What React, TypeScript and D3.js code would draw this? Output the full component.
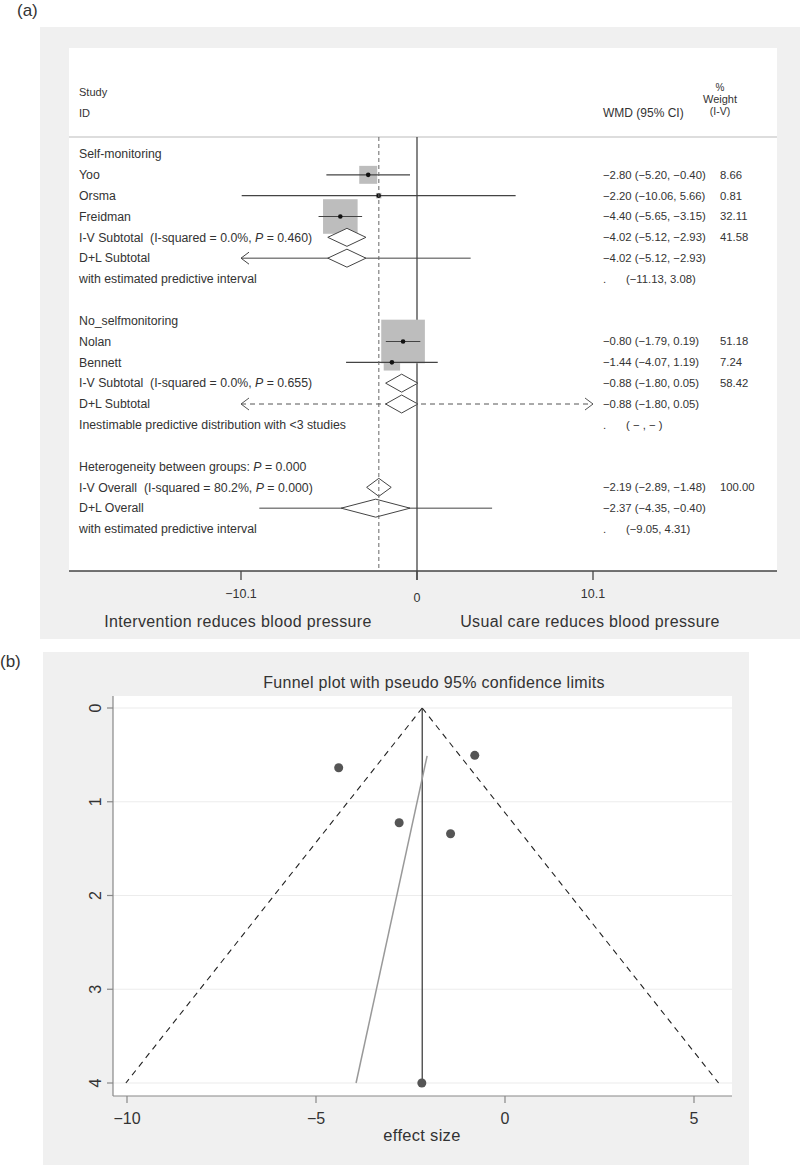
import React from "react";
import * as d3 from "d3";

// ---------- Forest plot data ----------
const rowLabels = [
  "Self-monitoring",
  "Yoo",
  "Orsma",
  "Freidman",
  "I-V Subtotal  (I-squared = 0.0%, P = 0.460)",
  "D+L Subtotal",
  "with estimated predictive interval",
  "",
  "No_selfmonitoring",
  "Nolan",
  "Bennett",
  "I-V Subtotal  (I-squared = 0.0%, P = 0.655)",
  "D+L Subtotal",
  "Inestimable predictive distribution with <3 studies",
  "",
  "Heterogeneity between groups: P = 0.000",
  "I-V Overall  (I-squared = 80.2%, P = 0.000)",
  "D+L Overall",
  "with estimated predictive interval",
];
const effectText = [
  "", "−2.80 (−5.20, −0.40)", "−2.20 (−10.06, 5.66)", "−4.40 (−5.65, −3.15)",
  "−4.02 (−5.12, −2.93)", "−4.02 (−5.12, −2.93)", "", "", "",
  "−0.80 (−1.79, 0.19)", "−1.44 (−4.07, 1.19)", "−0.88 (−1.80, 0.05)",
  "−0.88 (−1.80, 0.05)", "", "", "", "−2.19 (−2.89, −1.48)", "−2.37 (−4.35, −0.40)", "",
];
const weightText = [
  "", "8.66", "0.81", "32.11", "41.58", "", "", "", "",
  "51.18", "7.24", "58.42", "", "", "", "", "100.00", "", "",
];
const predText: { row: number; text: string }[] = [
  { row: 6, text: "(−11.13, 3.08)" },
  { row: 13, text: "( − , − )" },
  { row: 18, text: "(−9.05, 4.31)" },
];

const studyRows = [1, 2, 3, 9, 10];
const studyEst = [-2.8, -2.2, -4.4, -0.8, -1.44];
const studyLo = [-5.2, -10.06, -5.65, -1.79, -4.07];
const studyHi = [-0.4, 5.66, -3.15, 0.19, 1.19];
const studyWeight = [8.66, 0.81, 32.11, 51.18, 7.24];

const pooledRows = [4, 5, 11, 12, 16, 17];
const pooledEst = [-4.02, -4.02, -0.88, -0.88, -2.19, -2.37];
const pooledLo = [-5.12, -5.12, -1.8, -1.8, -2.89, -4.35];
const pooledHi = [-2.93, -2.93, 0.05, 0.05, -1.48, -0.4];

// predictive intervals (null = inestimable)
const predRows = [5, 12, 17];
const predLo: (number | null)[] = [-11.13, null, -9.05];
const predHi: (number | null)[] = [3.08, null, 4.31];

const overallEffect = -2.19;
const forestTicks = [-10.1, 0, 10.1];
const forestTickLabels = ["−10.1", "0", "10.1"];

// ---------- Funnel plot data ----------
const funnelCenter = -2.19;
const funnelZ = 1.96;
const funnelXTicks = [-10, -5, 0, 5];
const funnelYTicks = [0, 1, 2, 3, 4];
const eggerX = [-2.06, -3.94];
const eggerY = [0.51, 4.0];

const FONT = "'Liberation Sans', Arial, Helvetica, sans-serif";
const TXT = "#333";

function labelWithItalicP(s: string) {
  const parts = s.split(/(\bP\b)/);
  return parts.map((p, i) =>
    p === "P" ? (
      <tspan key={i} fontStyle="italic">P</tspan>
    ) : (
      <tspan key={i}>{p}</tspan>
    )
  );
}

export default function App() {
  const fx = d3.scaleLinear().domain([-10.1, 10.1]).range([241, 593]);
  const ry = d3.scaleLinear().domain([0, 18]).range([154, 529]);
  const xmin = -10.1;
  const xmax = 10.1;
  const lineCol = "#444";

  const arrow = (x: number, y: number, dir: number, key: string, dash?: boolean) => (
    <path
      key={key}
      d={`M${x + dir * 8},${y - 6}L${x},${y}L${x + dir * 8},${y + 6}`}
      fill="none"
      stroke={dash ? "#555" : lineCol}
      strokeWidth={1}
    />
  );

  // funnel scales
  const ux = d3.scaleLinear().domain([-10, 5]).range([127, 694]);
  const uy = d3.scaleLinear().domain([0, 4]).range([708, 1083]);
  const funnelSE = studyLo.map((l, i) => (studyHi[i] - l) / (2 * funnelZ));

  return (
    <svg
      width={800}
      height={1166}
      style={{ position: "absolute", left: 0, top: 0, background: "#fff" }}
      fontFamily={FONT}
    >
      {/* ================= Panel (a) ================= */}
      <text x={17} y={16} fontSize={17} fill={TXT}>(a)</text>
      <rect x={40} y={27} width={760} height={612} fill="#f0f0f0" />
      <rect x={69} y={48} width={708} height={523} fill="#fff" />

      {/* header */}
      <text x={79} y={96} fontSize={11} fill={TXT}>Study</text>
      <text x={79} y={117} fontSize={11} fill={TXT}>ID</text>
      <text x={603} y={117} fontSize={12} fill={TXT}>WMD (95% CI)</text>
      <text x={720} y={91} fontSize={10} fill={TXT} textAnchor="middle">%</text>
      <text x={720} y={103} fontSize={11} fill={TXT} textAnchor="middle">Weight</text>
      <text x={720} y={115} fontSize={10.5} fill={TXT} textAnchor="middle">(I-V)</text>
      <line x1={69} x2={777} y1={137} y2={137} stroke="#bbb" strokeWidth={1} />

      {/* zero line */}
      <line x1={fx(0)} x2={fx(0)} y1={137} y2={580} stroke={lineCol} strokeWidth={1.3} />

      {/* boxes */}
      {studyRows.map((r, i) => {
        const s = Math.sqrt(studyWeight[i]) * 6.1;
        return (
          <rect
            key={"b" + i}
            x={fx(studyEst[i]) - s / 2}
            y={ry(r) - s / 2}
            width={s}
            height={s}
            fill="#bdbdbd"
          />
        );
      })}
      {/* CI lines */}
      {studyRows.map((r, i) => {
        const lo = Math.max(studyLo[i], xmin);
        const hi = Math.min(studyHi[i], xmax);
        return (
          <g key={"ci" + i}>
            <line x1={fx(lo)} x2={fx(hi)} y1={ry(r)} y2={ry(r)} stroke={lineCol} strokeWidth={1.2} />
            <circle cx={fx(studyEst[i])} cy={ry(r)} r={2.3} fill="#111" />
          </g>
        );
      })}

      {/* predictive intervals */}
      {predRows.map((r, i) => {
        const y = ry(r);
        const lo = predLo[i];
        const hi = predHi[i];
        if (lo === null || hi === null) {
          return (
            <g key={"p" + i}>
              <line x1={fx(xmin)} x2={fx(xmax)} y1={y} y2={y} stroke="#555" strokeWidth={1} strokeDasharray="5,4" />
              {arrow(fx(xmin), y, 1, "pa" + i, true)}
              {arrow(fx(xmax), y, -1, "pb" + i, true)}
            </g>
          );
        }
        const l = Math.max(lo, xmin);
        const h = Math.min(hi, xmax);
        return (
          <g key={"p" + i}>
            <line x1={fx(l)} x2={fx(h)} y1={y} y2={y} stroke={lineCol} strokeWidth={1} />
            {lo < xmin ? arrow(fx(xmin), y, 1, "pa" + i) : null}
            {hi > xmax ? arrow(fx(xmax), y, -1, "pb" + i) : null}
          </g>
        );
      })}

      {/* diamonds */}
      {pooledRows.map((r, i) => {
        const y = ry(r);
        const h = 9;
        return (
          <path
            key={"d" + i}
            d={`M${fx(pooledLo[i])},${y}L${fx(pooledEst[i])},${y - h}L${fx(pooledHi[i])},${y}L${fx(pooledEst[i])},${y + h}Z`}
            fill="#fff"
            stroke={lineCol}
            strokeWidth={1}
          />
        );
      })}

      {/* overall dashed line */}
      <line
        x1={fx(overallEffect)}
        x2={fx(overallEffect)}
        y1={137}
        y2={571}
        stroke="#666"
        strokeWidth={1}
        strokeDasharray="4,3"
      />

      {/* axis */}
      <line x1={69} x2={777} y1={571} y2={571} stroke={lineCol} strokeWidth={1.3} />
      {forestTicks.map((t, i) => (
        <g key={"ft" + i}>
          <line x1={fx(t)} x2={fx(t)} y1={571} y2={580} stroke={lineCol} strokeWidth={1.3} />
          <text x={fx(t)} y={i === 1 ? 602 : 598} fontSize={12.5} fill={TXT} textAnchor="middle">
            {forestTickLabels[i]}
          </text>
        </g>
      ))}
      <text x={238} y={627} fontSize={16} letterSpacing={0.35} fill={TXT} textAnchor="middle">
        Intervention reduces blood pressure
      </text>
      <text x={590} y={627} fontSize={16} letterSpacing={0.35} fill={TXT} textAnchor="middle">
        Usual care reduces blood pressure
      </text>

      {/* row labels */}
      {rowLabels.map((s, i) =>
        s ? (
          <text key={"l" + i} x={79} y={ry(i)} dy="0.35em" fontSize={12.3} fill={TXT} style={{ whiteSpace: "pre" }}>
            {labelWithItalicP(s)}
          </text>
        ) : null
      )}
      {effectText.map((s, i) =>
        s ? (
          <text key={"e" + i} x={603} y={ry(i)} dy="0.35em" fontSize={11.3} fill={TXT}>
            {s}
          </text>
        ) : null
      )}
      {weightText.map((s, i) =>
        s ? (
          <text key={"w" + i} x={720} y={ry(i)} dy="0.35em" fontSize={11.3} fill={TXT}>
            {s}
          </text>
        ) : null
      )}
      {predText.map((p, i) => (
        <g key={"pt" + i}>
          <text x={603} y={ry(p.row)} dy="0.35em" fontSize={11.3} fill={TXT}>.</text>
          <text x={626} y={ry(p.row)} dy="0.35em" fontSize={11.3} fill={TXT} style={{ whiteSpace: "pre" }}>
            {p.text}
          </text>
        </g>
      ))}

      {/* ================= Panel (b) ================= */}
      <text x={0} y={667} fontSize={17} fill={TXT}>(b)</text>
      <rect x={43} y={652} width={706} height={513} fill="#f0f0f0" />
      <text x={434} y={688} fontSize={16} letterSpacing={0.3} fill={TXT} textAnchor="middle">
        Funnel plot with pseudo 95% confidence limits
      </text>
      <rect x={113} y={696} width={619} height={400} fill="#fff" />

      {/* gridlines */}
      {funnelYTicks.map((t) => (
        <line key={"g" + t} x1={113} x2={732} y1={uy(t)} y2={uy(t)} stroke="#ececec" strokeWidth={1.2} />
      ))}

      {/* axes */}
      <line x1={113} x2={113} y1={696} y2={1096} stroke="#888" strokeWidth={1.2} />
      <line x1={113} x2={732} y1={1096} y2={1096} stroke="#888" strokeWidth={1.2} />
      {funnelYTicks.map((t) => (
        <g key={"yt" + t}>
          <line x1={107} x2={113} y1={uy(t)} y2={uy(t)} stroke="#888" strokeWidth={1.2} />
          <text
            transform={`translate(95,${uy(t)}) rotate(-90)`}
            fontSize={16}
            fill={TXT}
            textAnchor="middle"
            dy="0.35em"
          >
            {String(t)}
          </text>
        </g>
      ))}
      {funnelXTicks.map((t) => (
        <g key={"xt" + t}>
          <line x1={ux(t)} x2={ux(t)} y1={1096} y2={1103} stroke="#888" strokeWidth={1.2} />
          <text x={ux(t)} y={1124} fontSize={16} fill={TXT} textAnchor="middle">
            {t < 0 ? "−" + Math.abs(t) : String(t)}
          </text>
        </g>
      ))}
      <text x={422} y={1141} fontSize={16.5} letterSpacing={0.3} fill={TXT} textAnchor="middle">
        effect size
      </text>

      {/* pseudo CI limits */}
      <line
        x1={ux(funnelCenter)}
        y1={uy(0)}
        x2={ux(funnelCenter - funnelZ * 4)}
        y2={uy(4)}
        stroke="#222"
        strokeWidth={1.1}
        strokeDasharray="6,5"
      />
      <line
        x1={ux(funnelCenter)}
        y1={uy(0)}
        x2={ux(funnelCenter + funnelZ * 4)}
        y2={uy(4)}
        stroke="#222"
        strokeWidth={1.1}
        strokeDasharray="6,5"
      />
      {/* pooled effect vertical */}
      <line x1={ux(funnelCenter)} x2={ux(funnelCenter)} y1={uy(0)} y2={uy(4)} stroke="#333" strokeWidth={1.2} />
      {/* regression line */}
      <line
        x1={ux(eggerX[0])}
        y1={uy(eggerY[0])}
        x2={ux(eggerX[1])}
        y2={uy(eggerY[1])}
        stroke="#999"
        strokeWidth={1.5}
      />
      {/* study points */}
      {studyEst.map((e, i) => (
        <circle key={"fp" + i} cx={ux(e)} cy={uy(Math.min(funnelSE[i], 4))} r={4.5} fill="#555" />
      ))}
    </svg>
  );
}
